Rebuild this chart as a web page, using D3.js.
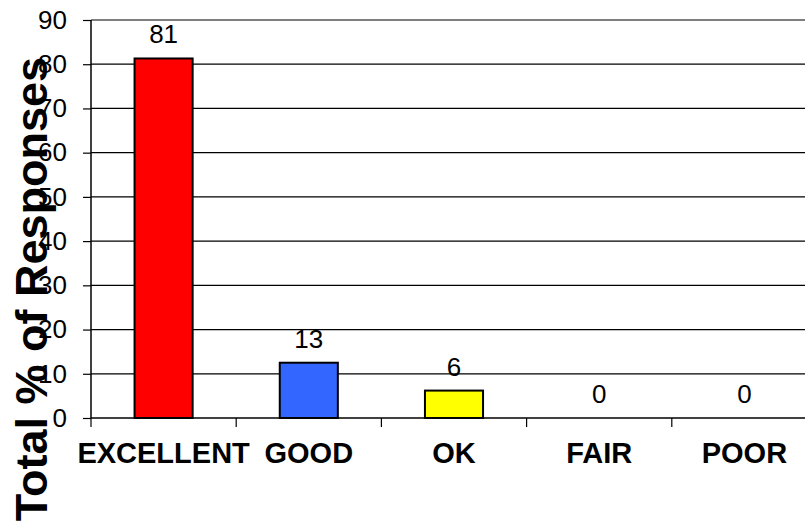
<!DOCTYPE html>
<html>
<head>
<meta charset="utf-8">
<script src="https://cdn.jsdelivr.net/npm/d3@7"></script>
<style>
  body { margin: 0; background: #fff; }
  svg { display: block; font-family: "Liberation Sans", Arial, sans-serif; }
</style>
</head>
<body>
<div class="chart"></div>
<script>
var categories = ["EXCELLENT", "GOOD", "OK", "FAIR", "POOR"];
var responses = [81.3, 12.5, 6.2, 0, 0];
var barColors = ["#FF0000", "#3366FF", "#FFFF00", "#999999", "#999999"];
var yTicks = [0, 10, 20, 30, 40, 50, 60, 70, 80, 90];

var width = 805, height = 521;
var svg = d3.select(".chart").append("svg").attr("width", width).attr("height", height);

// plot area runs past the right edge, like the original
var xScale = d3.scaleBand()
    .domain(categories)
    .range([91, 817])
    .paddingInner(0)
    .paddingOuter(0);

var yScale = d3.scaleLinear()
    .domain([0, 90])
    .range([418, 20]);

// gridlines
svg.append("g")
    .selectAll("line")
    .data(yTicks.slice(1))
    .enter().append("line")
    .attr("x1", 91)
    .attr("x2", width)
    .attr("y1", function(d) { return yScale(d); })
    .attr("y2", function(d) { return yScale(d); })
    .attr("stroke", "#000")
    .attr("stroke-width", 1.2);

// bars
var bw = xScale.bandwidth() * 0.4;
svg.append("g")
    .selectAll("rect")
    .data(categories)
    .enter().filter(function(d, i) { return responses[i] > 0; })
    .append("rect")
    .attr("x", function(d) { return xScale(d) + (xScale.bandwidth() - bw) / 2; })
    .attr("y", function(d) { return yScale(responses[categories.indexOf(d)]); })
    .attr("width", bw)
    .attr("height", function(d) { return yScale(0) - yScale(responses[categories.indexOf(d)]); })
    .attr("fill", function(d) { return barColors[categories.indexOf(d)]; })
    .attr("stroke", "#000")
    .attr("stroke-width", 2);

// value labels
svg.append("g")
    .selectAll("text")
    .data(categories)
    .enter().append("text")
    .attr("x", function(d) { return xScale(d) + xScale.bandwidth() / 2; })
    .attr("y", function(d) { return yScale(responses[categories.indexOf(d)]) - 15; })
    .attr("text-anchor", "middle")
    .attr("font-size", 26)
    .attr("fill", "#000")
    .text(function(d) { return d3.format(".0f")(responses[categories.indexOf(d)]); });

// y axis
var yAxis = svg.append("g")
    .attr("transform", "translate(91,0)")
    .call(d3.axisLeft(yScale).tickValues(yTicks).tickSize(8).tickPadding(16).tickFormat(d3.format("d")));
yAxis.select(".domain").attr("stroke", "#000").attr("stroke-width", 1.5).attr("d", "M0,20V418");
yAxis.selectAll(".tick line").attr("stroke", "#000").attr("stroke-width", 1.2);
yAxis.selectAll(".tick text")
    .attr("font-size", 26)
    .attr("font-family", "Liberation Sans, Arial, sans-serif")
    .attr("fill", "#000");

// x axis
var xAxis = svg.append("g")
    .attr("transform", "translate(0,418)")
    .call(d3.axisBottom(xScale).tickSize(0).tickPadding(24));
xAxis.select(".domain").attr("stroke", "#000").attr("stroke-width", 1.5).attr("d", "M91,0H805");
xAxis.selectAll(".tick text")
    .attr("font-size", 29)
    .attr("font-weight", "bold")
    .attr("font-family", "Liberation Sans, Arial, sans-serif")
    .attr("fill", "#000");

// x tick marks between categories
svg.append("g")
    .selectAll("line")
    .data(categories)
    .enter().append("line")
    .attr("x1", function(d) { return xScale(d); })
    .attr("x2", function(d) { return xScale(d); })
    .attr("y1", 418)
    .attr("y2", 427)
    .attr("stroke", "#000")
    .attr("stroke-width", 1.2);

// y title, drawn last so it sits over the tick labels
svg.append("text")
    .attr("transform", "translate(47,289) rotate(-90)")
    .attr("text-anchor", "middle")
    .attr("font-size", 45)
    .attr("font-weight", "bold")
    .attr("fill", "#000")
    .text("Total % of Responses");
</script>
</body>
</html>
